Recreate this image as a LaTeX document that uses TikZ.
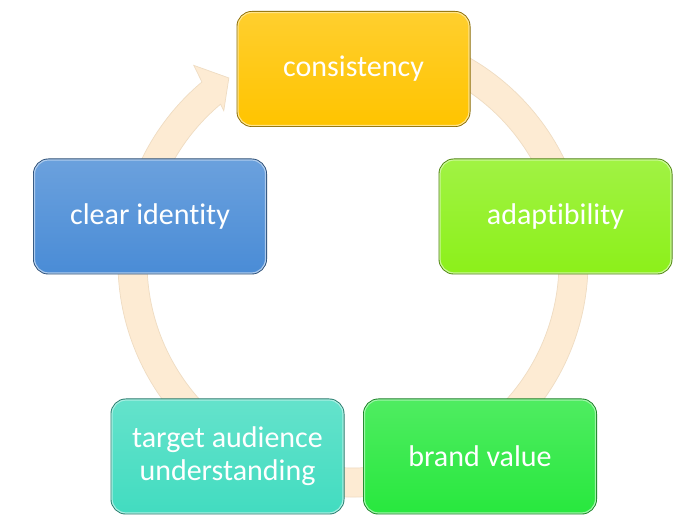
\documentclass[tikz,border=0pt]{standalone}
\usepackage{fontspec}
\setmainfont[Ligatures=NoCommon]{Carlito}
\usetikzlibrary{calc}
\definecolor{cyYellow}{HTML}{FFC400}
\definecolor{cyLime}{HTML}{8CF01A}
\definecolor{cyGreen}{HTML}{28E83E}
\definecolor{cyTurq}{HTML}{42DCC0}
\definecolor{cyBlue}{HTML}{4A8CD6}
\definecolor{cyRing}{HTML}{FDEBD3}
\definecolor{cyRingEdge}{HTML}{EFDCC2}

\begin{document}
\begin{tikzpicture}[x=1pt, y=1pt,
  etapa/.style={rounded corners=14pt, minimum width=231pt, minimum height=113pt, align=center,
    text=white, font=\fontsize{30}{33}\selectfont,
    top color=#1!82!white, bottom color=#1, draw=#1!45!white, line width=1.2pt,
    preaction={draw=#1!55!black, line width=3pt}},
  ciclo/.style={fill=cyRing, draw=cyRingEdge, line width=0.7pt}]
\useasboundingbox (0,0) rectangle (684,526);
\fill[white] (0,0) rectangle (684,526);
\coordinate (mid) at (353,264);

% cycle arrow behind the boxes
\filldraw[ciclo] ([shift={(80:235)}]mid) arc[start angle=80, end angle=-230, radius=235]
  -- ([shift={(129:253)}]mid) -- ([shift={(124:222)}]mid) -- ([shift={(130.5:199)}]mid)
  -- ([shift={(130:206)}]mid) arc[start angle=-230, end angle=80, radius=206] -- cycle;

\node[etapa=cyYellow] (c1) at ($(mid)+(0.5,193)$) {consistency};
\node[etapa=cyLime]   (c2) at ($(mid)+(202.5,45.5)$) {adaptibility};
\node[etapa=cyGreen]  (c3) at ($(mid)+(127,-194.5)$) {brand value};
\node[etapa=cyTurq]   (c4) at ($(mid)+(-125.5,-194.5)$) {target audience\\understanding};
\node[etapa=cyBlue]   (c5) at ($(mid)+(-203,45.5)$) {clear identity};
\end{tikzpicture}
\end{document}
